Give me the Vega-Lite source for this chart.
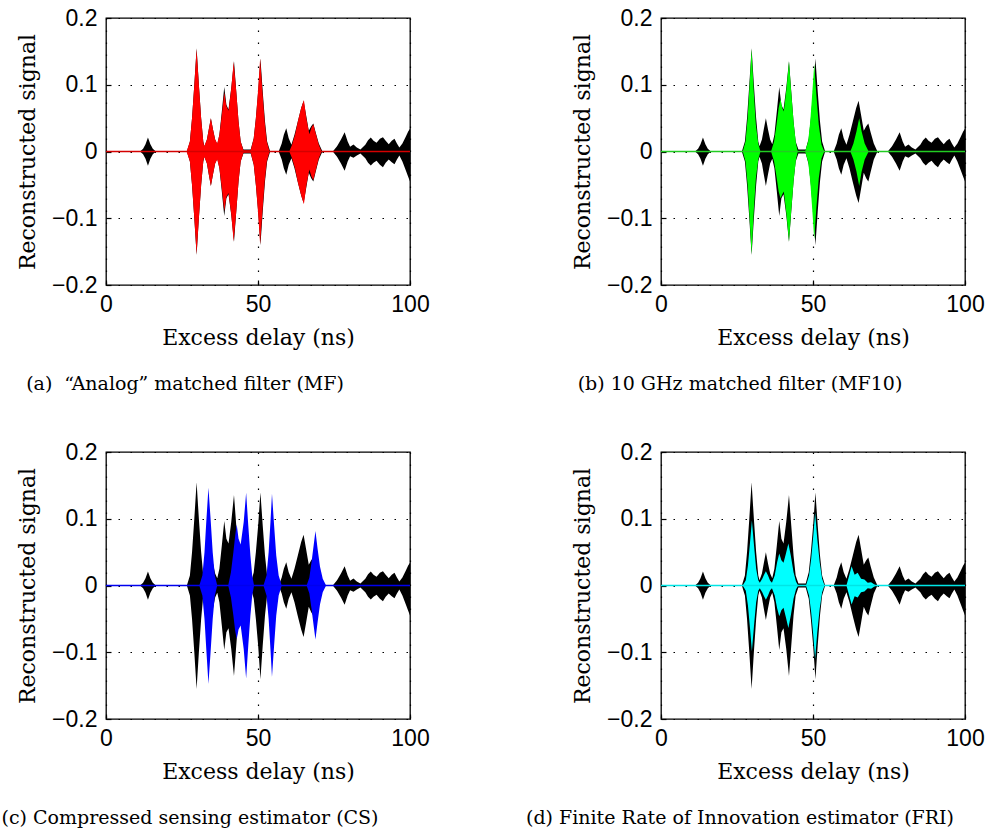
{
  "$schema": "https://vega.github.io/schema/vega-lite/v6.json",
  "background": "white",
  "padding": {"left": 0, "top": 6, "right": 0, "bottom": 0},
  "datasets": {
    "truth": [
      {"x": 0, "hi": 0, "lo": 0},
      {"x": 11.2, "hi": 0, "lo": 0},
      {"x": 12.2, "hi": 0.004, "lo": -0.004},
      {"x": 13, "hi": 0.011, "lo": -0.011},
      {"x": 13.8, "hi": 0.021, "lo": -0.0215},
      {"x": 14.6, "hi": 0.011, "lo": -0.011},
      {"x": 15.4, "hi": 0.004, "lo": -0.004},
      {"x": 16.4, "hi": 0, "lo": 0},
      {"x": 26.6, "hi": 0, "lo": 0},
      {"x": 27.6, "hi": 0.015, "lo": -0.015},
      {"x": 28.3, "hi": 0.05, "lo": -0.05},
      {"x": 29.05, "hi": 0.1, "lo": -0.1},
      {"x": 29.8, "hi": 0.1545, "lo": -0.155},
      {"x": 30.55, "hi": 0.1, "lo": -0.1},
      {"x": 31.3, "hi": 0.05, "lo": -0.05},
      {"x": 32, "hi": 0.015, "lo": -0.015},
      {"x": 32.4, "hi": 0.008, "lo": -0.008},
      {"x": 33.2, "hi": 0.018, "lo": -0.018},
      {"x": 33.8, "hi": 0.033, "lo": -0.034},
      {"x": 34.5, "hi": 0.05, "lo": -0.0515},
      {"x": 35.2, "hi": 0.033, "lo": -0.034},
      {"x": 35.9, "hi": 0.018, "lo": -0.018},
      {"x": 36.6, "hi": 0.011, "lo": -0.011},
      {"x": 37.3, "hi": 0.025, "lo": -0.025},
      {"x": 38.1, "hi": 0.06, "lo": -0.06},
      {"x": 38.9, "hi": 0.0965, "lo": -0.0965},
      {"x": 39.6, "hi": 0.07, "lo": -0.07},
      {"x": 40.3, "hi": 0.063, "lo": -0.064},
      {"x": 41.2, "hi": 0.095, "lo": -0.095},
      {"x": 42.1, "hi": 0.1355, "lo": -0.1355},
      {"x": 42.85, "hi": 0.09, "lo": -0.09},
      {"x": 43.6, "hi": 0.045, "lo": -0.045},
      {"x": 44.3, "hi": 0.015, "lo": -0.015},
      {"x": 45.2, "hi": 0.003, "lo": -0.003},
      {"x": 47.6, "hi": 0.003, "lo": -0.003},
      {"x": 48.6, "hi": 0.02, "lo": -0.02},
      {"x": 49.3, "hi": 0.05, "lo": -0.05},
      {"x": 50.05, "hi": 0.09, "lo": -0.09},
      {"x": 50.8, "hi": 0.1395, "lo": -0.1405},
      {"x": 51.55, "hi": 0.09, "lo": -0.09},
      {"x": 52.3, "hi": 0.045, "lo": -0.045},
      {"x": 53, "hi": 0.015, "lo": -0.015},
      {"x": 54, "hi": 0, "lo": 0},
      {"x": 56.8, "hi": 0, "lo": 0},
      {"x": 57.8, "hi": 0.012, "lo": -0.012},
      {"x": 58.5, "hi": 0.025, "lo": -0.025},
      {"x": 59.3, "hi": 0.035, "lo": -0.035},
      {"x": 60.1, "hi": 0.02, "lo": -0.02},
      {"x": 61, "hi": 0.01, "lo": -0.01},
      {"x": 62, "hi": 0.025, "lo": -0.025},
      {"x": 63.1, "hi": 0.045, "lo": -0.046},
      {"x": 64.2, "hi": 0.065, "lo": -0.066},
      {"x": 65, "hi": 0.076, "lo": -0.077},
      {"x": 65.8, "hi": 0.055, "lo": -0.056},
      {"x": 66.7, "hi": 0.031, "lo": -0.032},
      {"x": 67.5, "hi": 0.038, "lo": -0.04},
      {"x": 68.2, "hi": 0.042, "lo": -0.045},
      {"x": 69, "hi": 0.028, "lo": -0.03},
      {"x": 70, "hi": 0.012, "lo": -0.012},
      {"x": 71.2, "hi": 0, "lo": 0},
      {"x": 74.6, "hi": 0, "lo": 0},
      {"x": 76, "hi": 0.008, "lo": -0.008},
      {"x": 77.3, "hi": 0.018, "lo": -0.018},
      {"x": 78.5, "hi": 0.029, "lo": -0.029},
      {"x": 79.5, "hi": 0.015, "lo": -0.015},
      {"x": 80.3, "hi": 0.007, "lo": -0.007},
      {"x": 81.4, "hi": 0.0105, "lo": -0.0095},
      {"x": 82.5, "hi": 0.006, "lo": -0.006},
      {"x": 83.7, "hi": 0.003, "lo": -0.003},
      {"x": 85.3, "hi": 0.01, "lo": -0.01},
      {"x": 86.2, "hi": 0.017, "lo": -0.017},
      {"x": 87.1, "hi": 0.021, "lo": -0.021},
      {"x": 88, "hi": 0.016, "lo": -0.017},
      {"x": 89, "hi": 0.013, "lo": -0.014},
      {"x": 90.1, "hi": 0.019, "lo": -0.02},
      {"x": 91.1, "hi": 0.0215, "lo": -0.0235},
      {"x": 92, "hi": 0.016, "lo": -0.017},
      {"x": 93, "hi": 0.011, "lo": -0.012},
      {"x": 94, "hi": 0.016, "lo": -0.016},
      {"x": 94.9, "hi": 0.019, "lo": -0.019},
      {"x": 95.7, "hi": 0.012, "lo": -0.012},
      {"x": 96.5, "hi": 0.006, "lo": -0.006},
      {"x": 97.5, "hi": 0.012, "lo": -0.015},
      {"x": 98.6, "hi": 0.022, "lo": -0.028},
      {"x": 99.4, "hi": 0.03, "lo": -0.038},
      {"x": 100, "hi": 0.034, "lo": -0.045}
    ],
    "mf": [
      {"x": 0, "hi": 0, "lo": 0},
      {"x": 26.5, "hi": 0, "lo": 0},
      {"x": 27.6, "hi": 0.015, "lo": -0.015},
      {"x": 28.3, "hi": 0.05, "lo": -0.05},
      {"x": 29.05, "hi": 0.1, "lo": -0.1},
      {"x": 29.8, "hi": 0.1535, "lo": -0.154},
      {"x": 30.55, "hi": 0.1, "lo": -0.1},
      {"x": 31.3, "hi": 0.05, "lo": -0.05},
      {"x": 32, "hi": 0.015, "lo": -0.015},
      {"x": 32.3, "hi": 0.008, "lo": -0.008},
      {"x": 33.2, "hi": 0.018, "lo": -0.018},
      {"x": 33.8, "hi": 0.033, "lo": -0.034},
      {"x": 34.5, "hi": 0.05, "lo": -0.0515},
      {"x": 35.2, "hi": 0.033, "lo": -0.034},
      {"x": 35.9, "hi": 0.018, "lo": -0.018},
      {"x": 36.6, "hi": 0.012, "lo": -0.012},
      {"x": 37.3, "hi": 0.025, "lo": -0.025},
      {"x": 38.1, "hi": 0.055, "lo": -0.055},
      {"x": 38.9, "hi": 0.0885, "lo": -0.089},
      {"x": 39.6, "hi": 0.068, "lo": -0.068},
      {"x": 40.3, "hi": 0.061, "lo": -0.062},
      {"x": 41.2, "hi": 0.094, "lo": -0.094},
      {"x": 42, "hi": 0.1345, "lo": -0.135},
      {"x": 42.85, "hi": 0.09, "lo": -0.09},
      {"x": 43.6, "hi": 0.045, "lo": -0.045},
      {"x": 44.3, "hi": 0.015, "lo": -0.015},
      {"x": 45.2, "hi": 0.002, "lo": -0.002},
      {"x": 47.6, "hi": 0.002, "lo": -0.002},
      {"x": 48.6, "hi": 0.02, "lo": -0.02},
      {"x": 49.3, "hi": 0.05, "lo": -0.05},
      {"x": 50, "hi": 0.09, "lo": -0.09},
      {"x": 50.7, "hi": 0.1395, "lo": -0.139},
      {"x": 51.45, "hi": 0.09, "lo": -0.09},
      {"x": 52.2, "hi": 0.045, "lo": -0.045},
      {"x": 52.9, "hi": 0.015, "lo": -0.015},
      {"x": 53.8, "hi": 0, "lo": 0},
      {"x": 60.3, "hi": 0, "lo": 0},
      {"x": 61.2, "hi": 0.01, "lo": -0.01},
      {"x": 62.2, "hi": 0.026, "lo": -0.026},
      {"x": 63.1, "hi": 0.045, "lo": -0.046},
      {"x": 64.2, "hi": 0.065, "lo": -0.066},
      {"x": 65.1, "hi": 0.077, "lo": -0.079},
      {"x": 65.9, "hi": 0.05, "lo": -0.051},
      {"x": 66.9, "hi": 0.026, "lo": -0.027},
      {"x": 67.6, "hi": 0.036, "lo": -0.038},
      {"x": 68.2, "hi": 0.041, "lo": -0.043},
      {"x": 69, "hi": 0.027, "lo": -0.028},
      {"x": 70, "hi": 0.01, "lo": -0.01},
      {"x": 70.9, "hi": 0, "lo": 0},
      {"x": 100, "hi": 0, "lo": 0}
    ],
    "mf10": [
      {"x": 0, "hi": 0, "lo": 0},
      {"x": 26.9, "hi": 0, "lo": 0},
      {"x": 27.8, "hi": 0.015, "lo": -0.015},
      {"x": 28.5, "hi": 0.05, "lo": -0.05},
      {"x": 29.15, "hi": 0.1, "lo": -0.1},
      {"x": 29.8, "hi": 0.1535, "lo": -0.154},
      {"x": 30.5, "hi": 0.09, "lo": -0.09},
      {"x": 31.2, "hi": 0.04, "lo": -0.04},
      {"x": 32, "hi": 0.012, "lo": -0.012},
      {"x": 32.7, "hi": 0, "lo": 0},
      {"x": 36.2, "hi": 0, "lo": 0},
      {"x": 37.2, "hi": 0.015, "lo": -0.015},
      {"x": 38, "hi": 0.04, "lo": -0.038},
      {"x": 38.7, "hi": 0.065, "lo": -0.06},
      {"x": 39.3, "hi": 0.0785, "lo": -0.07},
      {"x": 39.9, "hi": 0.065, "lo": -0.064},
      {"x": 40.4, "hi": 0.06, "lo": -0.06},
      {"x": 41.3, "hi": 0.095, "lo": -0.095},
      {"x": 42.1, "hi": 0.135, "lo": -0.135},
      {"x": 42.9, "hi": 0.085, "lo": -0.085},
      {"x": 43.7, "hi": 0.04, "lo": -0.04},
      {"x": 44.4, "hi": 0.012, "lo": -0.012},
      {"x": 45, "hi": 0, "lo": 0},
      {"x": 47.4, "hi": 0, "lo": 0},
      {"x": 48.4, "hi": 0.015, "lo": -0.015},
      {"x": 49.1, "hi": 0.045, "lo": -0.045},
      {"x": 49.8, "hi": 0.09, "lo": -0.09},
      {"x": 50.4, "hi": 0.131, "lo": -0.1315},
      {"x": 51.1, "hi": 0.085, "lo": -0.085},
      {"x": 51.9, "hi": 0.04, "lo": -0.04},
      {"x": 52.8, "hi": 0.01, "lo": -0.01},
      {"x": 53.7, "hi": 0, "lo": 0},
      {"x": 62.3, "hi": 0, "lo": 0},
      {"x": 63.3, "hi": 0.012, "lo": -0.012},
      {"x": 64.3, "hi": 0.03, "lo": -0.03},
      {"x": 65.2, "hi": 0.05, "lo": -0.0515},
      {"x": 66, "hi": 0.03, "lo": -0.03},
      {"x": 67, "hi": 0.012, "lo": -0.012},
      {"x": 68.3, "hi": 0, "lo": 0},
      {"x": 100, "hi": 0, "lo": 0}
    ],
    "cs": [
      {"x": 0, "hi": 0, "lo": 0},
      {"x": 30.7, "hi": 0, "lo": 0},
      {"x": 31.7, "hi": 0.015, "lo": -0.015},
      {"x": 32.4, "hi": 0.05, "lo": -0.05},
      {"x": 33.05, "hi": 0.1, "lo": -0.1},
      {"x": 33.7, "hi": 0.1465, "lo": -0.1475},
      {"x": 34.4, "hi": 0.1, "lo": -0.1},
      {"x": 35.1, "hi": 0.05, "lo": -0.05},
      {"x": 35.8, "hi": 0.015, "lo": -0.015},
      {"x": 36.6, "hi": 0, "lo": 0},
      {"x": 40.2, "hi": 0, "lo": 0},
      {"x": 41.1, "hi": 0.02, "lo": -0.018},
      {"x": 41.9, "hi": 0.05, "lo": -0.045},
      {"x": 42.5, "hi": 0.075, "lo": -0.068},
      {"x": 43, "hi": 0.0915, "lo": -0.08},
      {"x": 43.6, "hi": 0.07, "lo": -0.066},
      {"x": 44.3, "hi": 0.0615, "lo": -0.06},
      {"x": 45.3, "hi": 0.095, "lo": -0.095},
      {"x": 46.1, "hi": 0.139, "lo": -0.1395},
      {"x": 46.8, "hi": 0.09, "lo": -0.09},
      {"x": 47.5, "hi": 0.045, "lo": -0.045},
      {"x": 48.1, "hi": 0.015, "lo": -0.015},
      {"x": 48.7, "hi": 0, "lo": 0},
      {"x": 51.8, "hi": 0, "lo": 0},
      {"x": 52.8, "hi": 0.015, "lo": -0.015},
      {"x": 53.5, "hi": 0.05, "lo": -0.05},
      {"x": 54.1, "hi": 0.095, "lo": -0.095},
      {"x": 54.6, "hi": 0.1375, "lo": -0.137},
      {"x": 55.3, "hi": 0.09, "lo": -0.09},
      {"x": 56, "hi": 0.045, "lo": -0.045},
      {"x": 56.8, "hi": 0.015, "lo": -0.015},
      {"x": 57.8, "hi": 0, "lo": 0},
      {"x": 66, "hi": 0, "lo": 0},
      {"x": 66.9, "hi": 0.012, "lo": -0.012},
      {"x": 67.6, "hi": 0.035, "lo": -0.035},
      {"x": 68.3, "hi": 0.06, "lo": -0.06},
      {"x": 68.9, "hi": 0.0815, "lo": -0.081},
      {"x": 69.6, "hi": 0.055, "lo": -0.055},
      {"x": 70.4, "hi": 0.028, "lo": -0.028},
      {"x": 71.3, "hi": 0.01, "lo": -0.01},
      {"x": 72.4, "hi": 0, "lo": 0},
      {"x": 100, "hi": 0, "lo": 0}
    ],
    "fri": [
      {"x": 0, "hi": 0, "lo": 0},
      {"x": 26.9, "hi": 0, "lo": 0},
      {"x": 27.9, "hi": 0.008, "lo": -0.008},
      {"x": 28.6, "hi": 0.03, "lo": -0.03},
      {"x": 29.3, "hi": 0.065, "lo": -0.065},
      {"x": 29.9, "hi": 0.0975, "lo": -0.0985},
      {"x": 30.6, "hi": 0.06, "lo": -0.06},
      {"x": 31.3, "hi": 0.025, "lo": -0.025},
      {"x": 32, "hi": 0.008, "lo": -0.008},
      {"x": 32.5, "hi": 0.004, "lo": -0.004},
      {"x": 33.3, "hi": 0.01, "lo": -0.01},
      {"x": 33.9, "hi": 0.016, "lo": -0.016},
      {"x": 34.5, "hi": 0.0215, "lo": -0.0215},
      {"x": 35.2, "hi": 0.015, "lo": -0.015},
      {"x": 35.9, "hi": 0.007, "lo": -0.007},
      {"x": 36.5, "hi": 0.004, "lo": -0.004},
      {"x": 37.4, "hi": 0.015, "lo": -0.015},
      {"x": 38.2, "hi": 0.035, "lo": -0.034},
      {"x": 38.9, "hi": 0.048, "lo": -0.046},
      {"x": 39.6, "hi": 0.038, "lo": -0.037},
      {"x": 40.3, "hi": 0.034, "lo": -0.0335},
      {"x": 41.1, "hi": 0.048, "lo": -0.048},
      {"x": 41.9, "hi": 0.063, "lo": -0.0635},
      {"x": 42.7, "hi": 0.045, "lo": -0.045},
      {"x": 43.6, "hi": 0.02, "lo": -0.02},
      {"x": 44.4, "hi": 0.006, "lo": -0.006},
      {"x": 45.1, "hi": 0, "lo": 0},
      {"x": 47.7, "hi": 0, "lo": 0},
      {"x": 48.7, "hi": 0.015, "lo": -0.015},
      {"x": 49.4, "hi": 0.04, "lo": -0.04},
      {"x": 50.1, "hi": 0.075, "lo": -0.075},
      {"x": 50.7, "hi": 0.109, "lo": -0.11},
      {"x": 51.4, "hi": 0.07, "lo": -0.07},
      {"x": 52.2, "hi": 0.035, "lo": -0.035},
      {"x": 53, "hi": 0.01, "lo": -0.01},
      {"x": 53.8, "hi": 0, "lo": 0},
      {"x": 61, "hi": 0, "lo": 0},
      {"x": 61.9, "hi": 0.015, "lo": -0.015},
      {"x": 62.7, "hi": 0.029, "lo": -0.0285},
      {"x": 63.7, "hi": 0.016, "lo": -0.016},
      {"x": 64.7, "hi": 0.019, "lo": -0.018},
      {"x": 65.8, "hi": 0.01, "lo": -0.01},
      {"x": 66.9, "hi": 0.009, "lo": -0.009},
      {"x": 68, "hi": 0.004, "lo": -0.004},
      {"x": 69.1, "hi": 0.005, "lo": -0.005},
      {"x": 70.7, "hi": 0, "lo": 0},
      {"x": 100, "hi": 0, "lo": 0}
    ]
  },
  "vconcat": [
    {
      "spacing": 140,
      "hconcat": [
        {
          "width": 304, "height": 267,
          "title": {"text": "(a)\u00a0 “Analog” matched filter (MF)"},
          "layer": [
            {"data": {"name": "truth"}, "mark": {"type": "area", "color": "#000000", "opacity": 1},
             "encoding": {"x": {"field": "x", "type": "quantitative", "scale": {"domain": [0, 100], "nice": false}, "axis": {"values": [0, 50, 100], "title": "Excess delay (ns)", "format": "d"}},
                          "y": {"field": "hi", "type": "quantitative", "scale": {"domain": [-0.2, 0.2], "nice": false}, "axis": {"values": [-0.2, -0.1, 0, 0.1, 0.2], "title": "Reconstructed signal", "labelExpr": "datum.value == 0 ? '0' : format(datum.value, '.1f')"}},
                          "y2": {"field": "lo"}}},
            {"data": {"name": "mf"}, "mark": {"type": "area", "color": "#ff0000", "opacity": 1},
             "encoding": {"x": {"field": "x", "type": "quantitative"}, "y": {"field": "hi", "type": "quantitative"}, "y2": {"field": "lo"}}},
            {"data": {"values": [{}]}, "mark": {"type": "rule", "color": "#d40000", "strokeWidth": 1.6},
             "encoding": {"y": {"datum": 0, "type": "quantitative"}}}
          ]
        },
        {
          "width": 304, "height": 267,
          "title": {"text": "(b) 10 GHz matched filter (MF10)"},
          "layer": [
            {"data": {"name": "truth"}, "mark": {"type": "area", "color": "#000000", "opacity": 1},
             "encoding": {"x": {"field": "x", "type": "quantitative", "scale": {"domain": [0, 100], "nice": false}, "axis": {"values": [0, 50, 100], "title": "Excess delay (ns)", "format": "d"}},
                          "y": {"field": "hi", "type": "quantitative", "scale": {"domain": [-0.2, 0.2], "nice": false}, "axis": {"values": [-0.2, -0.1, 0, 0.1, 0.2], "title": "Reconstructed signal", "labelExpr": "datum.value == 0 ? '0' : format(datum.value, '.1f')"}},
                          "y2": {"field": "lo"}}},
            {"data": {"name": "mf10"}, "mark": {"type": "area", "color": "#00ff00", "opacity": 1},
             "encoding": {"x": {"field": "x", "type": "quantitative"}, "y": {"field": "hi", "type": "quantitative"}, "y2": {"field": "lo"}}},
            {"data": {"values": [{}]}, "mark": {"type": "rule", "color": "#22cc22", "strokeWidth": 1.6},
             "encoding": {"y": {"datum": 0, "type": "quantitative"}}}
          ]
        }
      ]
    },
    {
      "spacing": 95,
      "hconcat": [
        {
          "width": 304, "height": 267,
          "title": {"text": "(c) Compressed sensing estimator (CS)", "dx": -68},
          "layer": [
            {"data": {"name": "truth"}, "mark": {"type": "area", "color": "#000000", "opacity": 1},
             "encoding": {"x": {"field": "x", "type": "quantitative", "scale": {"domain": [0, 100], "nice": false}, "axis": {"values": [0, 50, 100], "title": "Excess delay (ns)", "format": "d"}},
                          "y": {"field": "hi", "type": "quantitative", "scale": {"domain": [-0.2, 0.2], "nice": false}, "axis": {"values": [-0.2, -0.1, 0, 0.1, 0.2], "title": "Reconstructed signal", "labelExpr": "datum.value == 0 ? '0' : format(datum.value, '.1f')"}},
                          "y2": {"field": "lo"}}},
            {"data": {"name": "cs"}, "mark": {"type": "area", "color": "#0000ff", "opacity": 1},
             "encoding": {"x": {"field": "x", "type": "quantitative"}, "y": {"field": "hi", "type": "quantitative"}, "y2": {"field": "lo"}}},
            {"data": {"values": [{}]}, "mark": {"type": "rule", "color": "#0000ee", "strokeWidth": 1.6},
             "encoding": {"y": {"datum": 0, "type": "quantitative"}}}
          ]
        },
        {
          "width": 304, "height": 267,
          "title": {"text": "(d) Finite Rate of Innovation estimator (FRI)"},
          "layer": [
            {"data": {"name": "truth"}, "mark": {"type": "area", "color": "#000000", "opacity": 1},
             "encoding": {"x": {"field": "x", "type": "quantitative", "scale": {"domain": [0, 100], "nice": false}, "axis": {"values": [0, 50, 100], "title": "Excess delay (ns)", "format": "d"}},
                          "y": {"field": "hi", "type": "quantitative", "scale": {"domain": [-0.2, 0.2], "nice": false}, "axis": {"values": [-0.2, -0.1, 0, 0.1, 0.2], "title": "Reconstructed signal", "labelExpr": "datum.value == 0 ? '0' : format(datum.value, '.1f')"}},
                          "y2": {"field": "lo"}}},
            {"data": {"name": "fri"}, "mark": {"type": "area", "color": "#00ffff", "opacity": 1},
             "encoding": {"x": {"field": "x", "type": "quantitative"}, "y": {"field": "hi", "type": "quantitative"}, "y2": {"field": "lo"}}},
            {"data": {"values": [{}]}, "mark": {"type": "rule", "color": "#00e5e5", "strokeWidth": 1.6},
             "encoding": {"y": {"datum": 0, "type": "quantitative"}}}
          ]
        }
      ]
    }
  ],
  "spacing": 45,
  "config": {
    "view": {"stroke": "#000000", "strokeWidth": 1.3, "fill": "white"},
    "title": {"orient": "bottom", "anchor": "middle", "font": "DejaVu Serif", "fontSize": 19, "fontWeight": "normal", "color": "#000000", "offset": 27, "dx": -73},
    "axis": {
      "labelFont": "Liberation Sans", "labelFontSize": 23, "labelColor": "#000000",
      "titleFont": "DejaVu Serif", "titleFontSize": 22, "titleFontWeight": "normal", "titleColor": "#000000",
      "grid": true, "gridColor": "#000000", "gridDash": [1.5, 10.5], "gridWidth": 1.2, "gridOpacity": 1,
      "domain": false, "ticks": true, "tickSize": -5, "tickColor": "#000000", "tickWidth": 1.2, "labelFlush": false, "labelOverlap": false
    },
    "axisX": {"labelPadding": 13, "titlePadding": 11},
    "axisY": {"labelPadding": 14, "titlePadding": 12}
  }
}
